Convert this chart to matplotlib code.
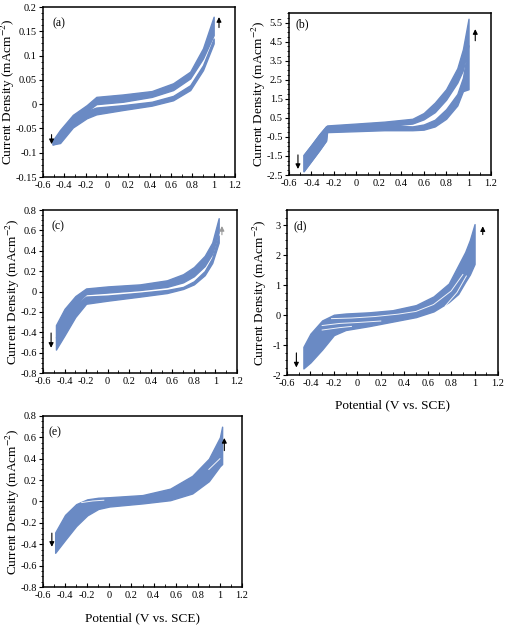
import matplotlib
matplotlib.use('Agg')
import matplotlib.pyplot as plt
from matplotlib.ticker import MultipleLocator, AutoMinorLocator, FuncFormatter

plt.rcParams['font.family'] = ['Liberation Serif', 'DejaVu Serif']
plt.rcParams['mathtext.fontset'] = 'stix'
plt.rcParams['axes.unicode_minus'] = False

BLUE = '#6a8ac4'

# (a) forward / reverse scan bands, edges
a_x = [-0.51, -0.44, -0.32, -0.19, -0.1, 0.15, 0.42, 0.62, 0.78, 0.9, 1.0]
a_fwd_hi = [-0.075, -0.053, -0.022, -0.002, 0.015, 0.02, 0.027, 0.043, 0.067, 0.115, 0.18]
a_fwd_lo = [-0.083, -0.077, -0.04, -0.015, 0.0, 0.005, 0.015, 0.029, 0.053, 0.094, 0.142]
a_rev_hi = [-0.075, -0.06, -0.03, -0.014, -0.007, -0.002, 0.005, 0.017, 0.039, 0.08, 0.135]
a_rev_lo = [-0.083, -0.08, -0.048, -0.029, -0.021, -0.012, -0.003, 0.008, 0.029, 0.07, 0.125]

# (b)
b_x = [-0.47, -0.40, -0.33, -0.27, -0.26, 0.0, 0.25, 0.5, 0.6, 0.7, 0.8, 0.9, 0.95, 1.0]
b_fwd_hi = [-1.45, -0.92, -0.37, 0.05, 0.1, 0.2, 0.3, 0.45, 0.75, 1.3, 2.0, 3.1, 4.1, 5.7]
b_fwd_lo = [-2.3, -1.75, -1.2, -0.7, -0.1, -0.02, 0.05, 0.2, 0.42, 0.8, 1.45, 2.35, 3.0, 4.3]
b_rev_hi = [-1.45, -0.92, -0.37, 0.05, 0.0, 0.05, 0.1, 0.05, 0.15, 0.4, 0.95, 1.75, 2.6, 4.3]
b_rev_lo = [-2.3, -1.75, -1.2, -0.7, -0.25, -0.2, -0.15, -0.15, -0.12, 0.05, 0.45, 1.15, 1.9, 2.0]

# (c)
c_x = [-0.48, -0.4, -0.3, -0.2, 0.0, 0.3, 0.55, 0.7, 0.8, 0.9, 0.97, 1.03]
c_fwd_hi = [-0.33, -0.17, -0.045, 0.03, 0.05, 0.07, 0.11, 0.17, 0.24, 0.35, 0.48, 0.72]
c_fwd_lo = [-0.45, -0.3, -0.13, -0.025, -0.01, 0.015, 0.045, 0.09, 0.15, 0.25, 0.37, 0.58]
c_rev_hi = [-0.45, -0.3, -0.13, -0.05, -0.04, -0.012, 0.015, 0.045, 0.1, 0.2, 0.33, 0.55]
c_rev_lo = [-0.57, -0.43, -0.25, -0.12, -0.09, -0.05, -0.015, 0.025, 0.07, 0.16, 0.28, 0.48]

# (d) all cycles in one band, a few white gaps between cycles
d_x = [-0.46, -0.4, -0.3, -0.2, -0.1, 0.1, 0.3, 0.5, 0.65, 0.78, 0.86, 0.92, 0.96, 1.0]
d_hi = [-1.06, -0.62, -0.18, 0.01, 0.05, 0.09, 0.16, 0.33, 0.62, 1.05, 1.65, 2.1, 2.5, 3.03]
d_lo = [-1.78, -1.58, -1.15, -0.67, -0.5, -0.37, -0.22, -0.07, 0.12, 0.43, 0.7, 1.1, 1.35, 1.7]
d_gap1_x = [-0.22, -0.05, 0.15, 0.35, 0.5, 0.65, 0.8, 0.9]
d_gap1_y = [-0.12, -0.1, -0.05, 0.03, 0.12, 0.35, 0.8, 1.35]
d_gap2_x = [-0.3, -0.15, 0.0, 0.2]
d_gap2_y = [-0.35, -0.28, -0.25, -0.2]
d_gap3_x = [-0.3, -0.15, -0.05]
d_gap3_y = [-0.5, -0.42, -0.38]
d_gap4_x = [0.75, 0.85, 0.93]
d_gap4_y = [0.3, 0.75, 1.3]

# (e)
e_x = [-0.49, -0.4, -0.3, -0.2, -0.1, 0.0, 0.3, 0.55, 0.75, 0.9, 1.0, 1.02]
e_hi = [-0.29, -0.125, -0.025, 0.02, 0.035, 0.04, 0.06, 0.12, 0.24, 0.4, 0.6, 0.7]
e_lo = [-0.48, -0.36, -0.23, -0.13, -0.07, -0.047, -0.018, 0.012, 0.075, 0.19, 0.33, 0.35]
e_gap1_x = [-0.25, -0.15, -0.05]
e_gap1_y = [-0.01, 0.005, 0.012]
e_gap2_x = [0.9, 0.95, 1.0]
e_gap2_y = [0.3, 0.35, 0.4]

x_ticks = [-0.6, -0.4, -0.2, 0, 0.2, 0.4, 0.6, 0.8, 1, 1.2]
ylabel = 'Current Density (mAcm$^{-2}$)'
xlabel = 'Potential (V vs. SCE)'


def fmt(v, pos):
    s = '%g' % round(v, 3)
    return '0' if s == '-0' else s


def setup(ax, ylim, ystep, ybase, letter, lab_x, lab_y, ylab_x, show_xlabel=False):
    ax.set_xlim(-0.6, 1.2)
    ax.set_ylim(*ylim)
    ax.set_xticks(x_ticks)
    ax.xaxis.set_minor_locator(AutoMinorLocator(2))
    ax.yaxis.set_major_locator(MultipleLocator(ystep, offset=ybase))
    ax.yaxis.set_minor_locator(AutoMinorLocator(4))
    ax.xaxis.set_major_formatter(FuncFormatter(fmt))
    ax.yaxis.set_major_formatter(FuncFormatter(fmt))
    ax.tick_params(axis='x', which='both', direction='in', labelsize=7.5, pad=3)
    ax.tick_params(axis='x', which='major', length=3, width=0.8)
    ax.tick_params(axis='x', which='minor', length=2, width=0.6)
    ax.tick_params(axis='y', which='both', direction='out', labelsize=7.5, pad=1.5)
    ax.tick_params(axis='y', which='major', length=3, width=0.8)
    ax.tick_params(axis='y', which='minor', length=1.8, width=0.6)
    for sp in ax.spines.values():
        sp.set_linewidth(1.1)
    ax.set_ylabel(ylabel, fontsize=9.5)
    ax.yaxis.set_label_coords(ylab_x, 0.5)
    ax.text(lab_x, lab_y, '(%s)' % letter, transform=ax.transAxes,
            fontsize=8.5, va='center', ha='left')
    if show_xlabel:
        ax.set_xlabel(xlabel, fontsize=9.5)
        ax.xaxis.set_label_coords(0.5, -0.145)


def band(ax, x, hi, lo):
    ax.fill_between(x, lo, hi, color=BLUE, lw=1.0, edgecolor=BLUE)


def gap(ax, x, y):
    ax.plot(x, y, color='white', lw=0.7, alpha=0.9)


def arrows(ax, down, up, up_color='black'):
    ax.annotate('', xy=(down[0], down[2]), xytext=(down[0], down[1]),
                arrowprops=dict(arrowstyle='-|>', color='black', lw=0.8, mutation_scale=7))
    ax.annotate('', xy=(up[0], up[2]), xytext=(up[0], up[1]),
                arrowprops=dict(arrowstyle='-|>', color=up_color, lw=0.8, mutation_scale=7))


fig = plt.figure(figsize=(5.06, 6.32), dpi=100)

ax_a = fig.add_axes([0.0850, 0.7199, 0.3794, 0.2690])
band(ax_a, a_x, a_fwd_hi, a_fwd_lo)
band(ax_a, a_x, a_rev_hi, a_rev_lo)
arrows(ax_a, (-0.52, -0.057, -0.088), (1.05, 0.152, 0.185))
setup(ax_a, (-0.15, 0.2), 0.05, 0.0, 'a', 0.05, 0.905, -0.135)

ax_b = fig.add_axes([0.5711, 0.7231, 0.3992, 0.2563])
band(ax_b, b_x, b_fwd_hi, b_fwd_lo)
band(ax_b, b_x, b_rev_hi, b_rev_lo)
arrows(ax_b, (-0.52, -1.3, -2.33), (1.06, 4.4, 5.3))
setup(ax_b, (-2.5, 6.0), 1.0, 0.5, 'b', 0.03, 0.93, -0.105)

ax_c = fig.add_axes([0.0850, 0.4098, 0.3834, 0.2579])
band(ax_c, c_x, c_fwd_hi, c_fwd_lo)
band(ax_c, c_x, c_rev_hi, c_rev_lo)
arrows(ax_c, (-0.525, -0.38, -0.58), (1.06, 0.53, 0.67), up_color='#999999')
setup(ax_c, (-0.8, 0.8), 0.2, 0.0, 'c', 0.045, 0.9, -0.11)

ax_d = fig.add_axes([0.5672, 0.4066, 0.4170, 0.2611])
band(ax_d, d_x, d_hi, d_lo)
gap(ax_d, d_gap1_x, d_gap1_y)
gap(ax_d, d_gap2_x, d_gap2_y)
gap(ax_d, d_gap3_x, d_gap3_y)
gap(ax_d, d_gap4_x, d_gap4_y)
arrows(ax_d, (-0.52, -1.17, -1.84), (1.07, 2.59, 3.05))
setup(ax_d, (-2.0, 3.5), 1.0, 0.0, 'd', 0.03, 0.9, -0.085, show_xlabel=True)

ax_e = fig.add_axes([0.0850, 0.0712, 0.3933, 0.2706])
band(ax_e, e_x, e_hi, e_lo)
gap(ax_e, e_gap1_x, e_gap1_y)
gap(ax_e, e_gap2_x, e_gap2_y)
arrows(ax_e, (-0.52, -0.27, -0.45), (1.04, 0.45, 0.62))
setup(ax_e, (-0.8, 0.8), 0.2, 0.0, 'e', 0.03, 0.906, -0.107, show_xlabel=True)

fig.savefig('out.png', dpi=100)
